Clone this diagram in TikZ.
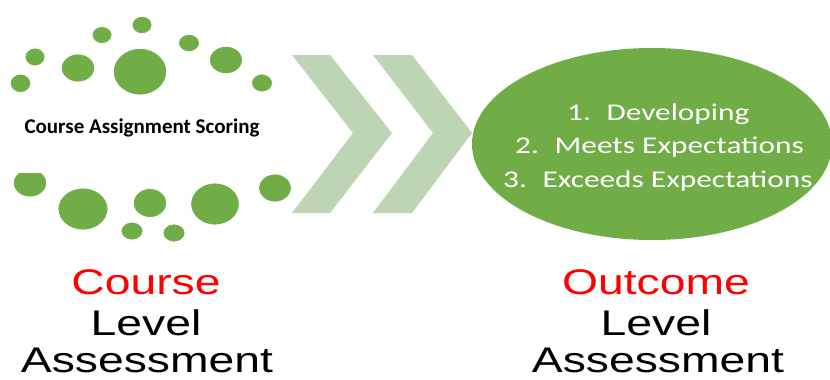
\documentclass[tikz,border=0pt]{standalone}
\usepackage{fontspec}
\usetikzlibrary{shapes.geometric}
\newfontfamily\carlito{Carlito}
\newfontfamily\arialf{Liberation Sans}
\definecolor{dotgreen}{RGB}{112,173,71}
\definecolor{chevgreen}{RGB}{189,212,181}
\definecolor{labred}{RGB}{255,0,0}
\tikzset{
  dot/.style={fill=dotgreen, draw=white, line width=0.8pt},
  chev/.style={fill=chevgreen, draw=none},
  bigtxt/.style={inner sep=0pt, anchor=base, font=\arialf\fontsize{35.6}{40}\selectfont},
  listtxt/.style={inner sep=0pt, anchor=base west, text=white, font=\carlito\fontsize{24}{28}\selectfont},
}
\newcommand{\listline}[2]{\scalebox{1.305}[1]{#1\hspace{12pt}#2}}
\begin{document}
\begin{tikzpicture}[x=1pt,y=-1pt]
\useasboundingbox (0,0) rectangle (830,380);
\fill[white] (0,0) rectangle (830,380);
% top dots
\fill[dot] (142,25) ellipse [x radius=10, y radius=8.7];
\fill[dot] (102,35) ellipse [x radius=10, y radius=8.5];
\fill[dot] (35,57) ellipse [x radius=10, y radius=9];
\fill[dot] (20.5,83.3) ellipse [x radius=10.3, y radius=9.3];
\fill[dot] (78,68) ellipse [x radius=16.7, y radius=14];
\fill[dot] (140,71.7) ellipse [x radius=26.7, y radius=23.3];
\fill[dot] (189,43) ellipse [x radius=10.5, y radius=8.7];
\fill[dot] (226,60) ellipse [x radius=16.5, y radius=13.7];
\fill[dot] (262,83) ellipse [x radius=10.5, y radius=9];
% bottom dots
\fill[dot] (30,183) ellipse [x radius=16.7, y radius=14];
\fill[dot] (83,209) ellipse [x radius=25, y radius=21];
\fill[dot] (150,203) ellipse [x radius=16.7, y radius=14.5];
\fill[dot] (215,204) ellipse [x radius=24.3, y radius=21];
\fill[dot] (275,188) ellipse [x radius=16.3, y radius=14];
\fill[dot] (132,231) ellipse [x radius=11, y radius=9];
\fill[dot] (174,233) ellipse [x radius=11, y radius=9];
% text box
\fill[white] (0,100) rectangle (285,173);
\node[inner sep=0pt, anchor=base, font=\carlito\bfseries\fontsize{21}{25}\selectfont] (cas) at (142,133) {Course Assignment Scoring};
% chevrons
\fill[chev] (292,55) -- (330,55) -- (392,133) -- (330,213) -- (292,213) -- (353,133) -- cycle;
\fill[chev] (373,55) -- (412,55) -- (472,133) -- (412,213) -- (373,213) -- (433,133) -- cycle;
% outcome ellipse
\node[ellipse, fill=dotgreen, inner sep=0pt, minimum width=360pt, minimum height=192pt] (outc) at (652,144) {};
\node[listtxt] (l1) at (567,120) {\listline{1.}{Developing}};
\node[listtxt] (l2) at (515,153) {\listline{2.}{Meets Expectations}};
\node[listtxt] (l3) at (503,187) {\listline{3.}{Exceeds Expectations}};
% labels
\node[bigtxt, text=labred] (c1) at (146,294) {\scalebox{1.3}[1]{Course}};
\node[bigtxt] (c2) at (146,335) {\scalebox{1.3}[1]{Level}};
\node[bigtxt] (c3) at (147,372) {\scalebox{1.3}[1]{Assessment}};
\node[bigtxt, text=labred] (o1) at (656,294) {\scalebox{1.3}[1]{Outcome}};
\node[bigtxt] (o2) at (656,335) {\scalebox{1.3}[1]{Level}};
\node[bigtxt] (o3) at (658,372) {\scalebox{1.3}[1]{Assessment}};
\end{tikzpicture}
\end{document}
